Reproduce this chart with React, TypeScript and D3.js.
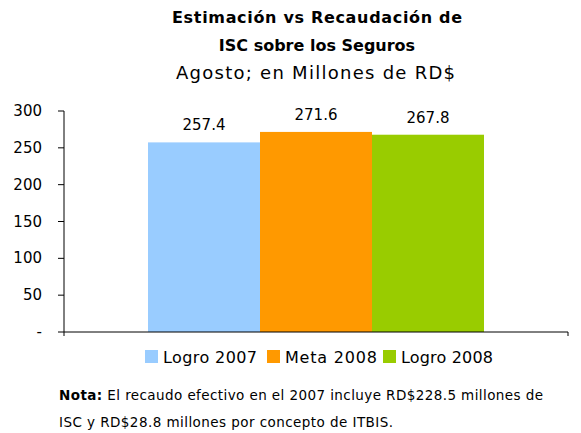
import React from "react";
import * as d3 from "d3";

const categories = ["Agosto"];
const seriesNames = ["Logro 2007", "Meta 2008", "Logro 2008"];
const seriesValues = [257.4, 271.6, 267.8];
const seriesColors = ["#99ccff", "#ff9900", "#99cc00"];
const yTicks = [0, 50, 100, 150, 200, 250, 300];

const FONT = "Tahoma, 'DejaVu Sans', Verdana, sans-serif";

export default function App() {
  const width = 581;
  const height = 433;
  const margin = { top: 111, right: 13, bottom: 101, left: 64 };

  const y = d3
    .scaleLinear()
    .domain([0, 300])
    .range([height - margin.bottom, margin.top]);

  const x0 = d3
    .scaleBand()
    .domain(categories)
    .range([margin.left, width - margin.right])
    .paddingInner(0)
    .paddingOuter(0);

  // bars fill the middle 2/3 of the category slot
  const x1 = d3
    .scaleBand()
    .domain(seriesNames)
    .range([x0.bandwidth() / 6, (x0.bandwidth() * 5) / 6]);

  const baseY = y(0);
  const tickFmt = (v: number) => (v === 0 ? "-" : String(v));

  const legendX = [145, 267, 383];
  const legendW = [94, 92, 92];

  return (
    <svg width={width} height={height} style={{ position: "absolute", left: 0, top: 0, background: "#fff" }} fontFamily={FONT}>
      <text x={172} y={23} fontSize={16} fontWeight="bold" fill="#000" textLength={290} lengthAdjust="spacing">
        Estimación vs Recaudación de
      </text>
      <text x={317} y={51} textAnchor="middle" fontSize={16} fontWeight="bold" fill="#000">
        ISC sobre los Seguros
      </text>
      <text x={176} y={79} fontSize={18} fill="#000" textLength={279} lengthAdjust="spacing">
        Agosto; en Millones de RD$
      </text>

      {categories.map((c) =>
        seriesNames.map((s, i) => (
          <g key={c + s}>
            <rect
              x={(x0(c) ?? 0) + (x1(s) ?? 0)}
              y={y(seriesValues[i])}
              width={x1.bandwidth()}
              height={baseY - y(seriesValues[i])}
              fill={seriesColors[i]}
            />
            <text
              x={(x0(c) ?? 0) + (x1(s) ?? 0) + x1.bandwidth() / 2}
              y={y(seriesValues[i]) - 12}
              textAnchor="middle"
              fontSize={15}
              fill="#000"
            >
              {seriesValues[i].toFixed(1)}
            </text>
          </g>
        ))
      )}

      {/* y axis */}
      <line x1={margin.left} x2={margin.left} y1={y(300)} y2={baseY} stroke="#000" strokeWidth={1} />
      {yTicks.map((t) => (
        <g key={t}>
          <line x1={margin.left - 6} x2={margin.left} y1={y(t)} y2={y(t)} stroke="#000" />
          <text x={42} y={y(t) + 5} textAnchor="end" fontSize={15} fill="#000">
            {tickFmt(t)}
          </text>
        </g>
      ))}

      {/* x axis */}
      <line x1={margin.left} x2={width - margin.right} y1={baseY} y2={baseY} stroke="#000" />
      <line x1={margin.left} x2={margin.left} y1={baseY} y2={baseY + 4} stroke="#000" />
      <line x1={width - margin.right} x2={width - margin.right} y1={baseY} y2={baseY + 4} stroke="#000" />

      {/* legend */}
      {seriesNames.map((s, i) => (
        <g key={s}>
          <rect x={legendX[i]} y={350} width={13} height={13} fill={seriesColors[i]} />
          <text x={legendX[i] + 18} y={363} fontSize={16} fill="#000" textLength={legendW[i]} lengthAdjust="spacing">
            {s}
          </text>
        </g>
      ))}

      {/* note */}
      <text x={59} y={400} fontSize={13.5} fill="#000" textLength={484} lengthAdjust="spacing">
        <tspan fontWeight="bold">Nota:</tspan> El recaudo efectivo en el 2007 incluye RD$228.5 millones de
      </text>
      <text x={59} y={427} fontSize={13.5} fill="#000" textLength={334} lengthAdjust="spacing">
        ISC y RD$28.8 millones por concepto de ITBIS.
      </text>
    </svg>
  );
}
